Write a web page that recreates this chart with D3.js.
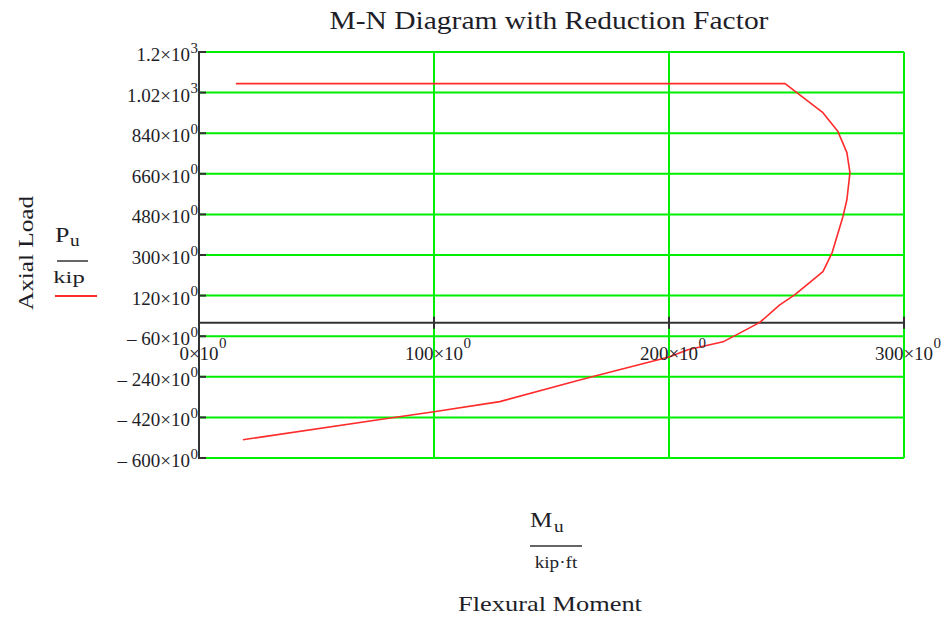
<!DOCTYPE html>
<html>
<head>
<meta charset="utf-8">
<script src="https://cdn.jsdelivr.net/npm/d3@7"></script>
<style>
  html, body { margin: 0; padding: 0; background: #fff; }
  svg { display: block; }
  svg text { font-family: "Liberation Serif", "Times New Roman", serif; }
</style>
</head>
<body>
<svg id="chart" width="941" height="617"></svg>
<script>
// ---- data ----
const moment = [15.7, 249.4, 265.5, 271.9, 275.7, 277.0, 275.7, 274.0, 269.4, 265.5,
                253.6, 247.0, 238.5, 223.0, 208.0, 200.0, 171.0, 162.0, 128.0, 100.0, 80.0, 18.7];
const axial  = [1060, 1060, 931, 847, 754, 665, 545, 470, 310, 226,
                124, 78, 0, -85, -120, -152, -230, -254, -350, -395, -425, -519];
const xTicks = [0, 100, 200, 300];
const xTickMain = ["0\u00d710", "100\u00d710", "200\u00d710", "300\u00d710"];
const xTickExp = ["0", "0", "0", "0"];
const yTicks = [-600, -420, -240, -60, 120, 300, 480, 660, 840, 1020, 1200];
const yTickMain = ["\u2013 600\u00d710", "\u2013 420\u00d710", "\u2013 240\u00d710", "\u2013 60\u00d710",
                   "120\u00d710", "300\u00d710", "480\u00d710", "660\u00d710", "840\u00d710",
                   "1.02\u00d710", "1.2\u00d710"];
const yTickExp = ["0", "0", "0", "0", "0", "0", "0", "0", "0", "3", "3"];
const title = "M-N Diagram with Reduction Factor";

// ---- layout ----
const svg = d3.select("#chart");
const x = d3.scaleLinear().domain([0, 300]).range([199, 904]);
const y = d3.scaleLinear().domain([-600, 1200]).range([458, 52]);
const green = "#00ee00";
const axisCol = "#333";
const tc = "#1e1e28";

// helper: text stretched horizontally
function label(px, py, str, size, anchor, sx, rot) {
  const gg = svg.append("g")
    .attr("transform", `translate(${px},${py})` + (rot ? ` rotate(${rot})` : "") + ` scale(${sx},1)`);
  return gg.append("text").attr("x", 0).attr("y", 0)
    .attr("text-anchor", anchor).attr("font-size", size).attr("fill", tc).text(str);
}

// grid
const g = svg.append("g");
g.selectAll("line.hg").data(yTicks).enter().append("line")
  .attr("x1", x(0)).attr("x2", x(300))
  .attr("y1", d => y(d)).attr("y2", d => y(d))
  .attr("stroke", green).attr("stroke-width", 2);
g.selectAll("line.vg").data(xTicks.filter(d => d > 0)).enter().append("line")
  .attr("x1", d => x(d)).attr("x2", d => x(d))
  .attr("y1", y(1200)).attr("y2", y(-600))
  .attr("stroke", green).attr("stroke-width", 2);

// axes lines
g.append("line").attr("x1", x(0)).attr("x2", x(0)).attr("y1", y(1200) - 1).attr("y2", y(-600) + 1)
  .attr("stroke", axisCol).attr("stroke-width", 2);
g.append("line").attr("x1", x(0)).attr("x2", x(300)).attr("y1", y(0)).attr("y2", y(0))
  .attr("stroke", axisCol).attr("stroke-width", 2);
g.selectAll("line.yt").data(yTicks).enter().append("line")
  .attr("x1", x(0)).attr("x2", x(0) + 7)
  .attr("y1", d => y(d)).attr("y2", d => y(d))
  .attr("stroke", axisCol).attr("stroke-width", 2);
g.selectAll("line.xt").data(xTicks.filter(d => d > 0)).enter().append("line")
  .attr("x1", d => x(d)).attr("x2", d => x(d))
  .attr("y1", y(0) - 6).attr("y2", y(0) + 6)
  .attr("stroke", axisCol).attr("stroke-width", 2);

// curve
const line = d3.line().x(d => x(d[0])).y(d => y(d[1]));
svg.append("path").datum(moment.map((m, i) => [m, axial[i]]))
  .attr("d", line).attr("fill", "none")
  .attr("stroke", "#ff2a2a").attr("stroke-width", 1.6).attr("stroke-linejoin", "round");

// y tick labels
yTicks.forEach((t, i) => {
  label(190, y(t) + 9, yTickMain[i], 19, "end", 1);
  label(190.5, y(t) + 0.5, yTickExp[i], 15, "start", 1);
});
// x tick labels
xTicks.forEach((t, i) => {
  const m = label(x(t), 360, xTickMain[i], 19, "middle", 1);
  const w = m.node().getComputedTextLength();
  label(x(t) + w / 2 + 0.5, 348, xTickExp[i], 15, "start", 1);
});

// title
label(549, 29, title, 25, "middle", 1.18);

// y axis label
label(33, 253, "Axial Load", 21, "middle", 1.2, -90);
// Pu / kip
label(55, 242, "P", 20, "start", 1.3);
label(70, 246, "u", 16, "start", 1.2);
svg.append("line").attr("x1", 57).attr("x2", 88).attr("y1", 261).attr("y2", 261)
  .attr("stroke", axisCol).attr("stroke-width", 1.5);
label(69, 283, "kip", 17, "middle", 1.45);
svg.append("line").attr("x1", 55).attr("x2", 97).attr("y1", 296).attr("y2", 296)
  .attr("stroke", "#ff2a2a").attr("stroke-width", 2);

// x axis label
label(530, 527, "M", 21, "start", 1.2);
label(554, 532, "u", 16, "start", 1.2);
svg.append("line").attr("x1", 530).attr("x2", 582).attr("y1", 546).attr("y2", 546)
  .attr("stroke", axisCol).attr("stroke-width", 1.5);
label(556, 568, "kip\u00b7ft", 17, "middle", 1.13);
label(550, 611, "Flexural Moment", 22, "middle", 1.2);
</script>
</body>
</html>
